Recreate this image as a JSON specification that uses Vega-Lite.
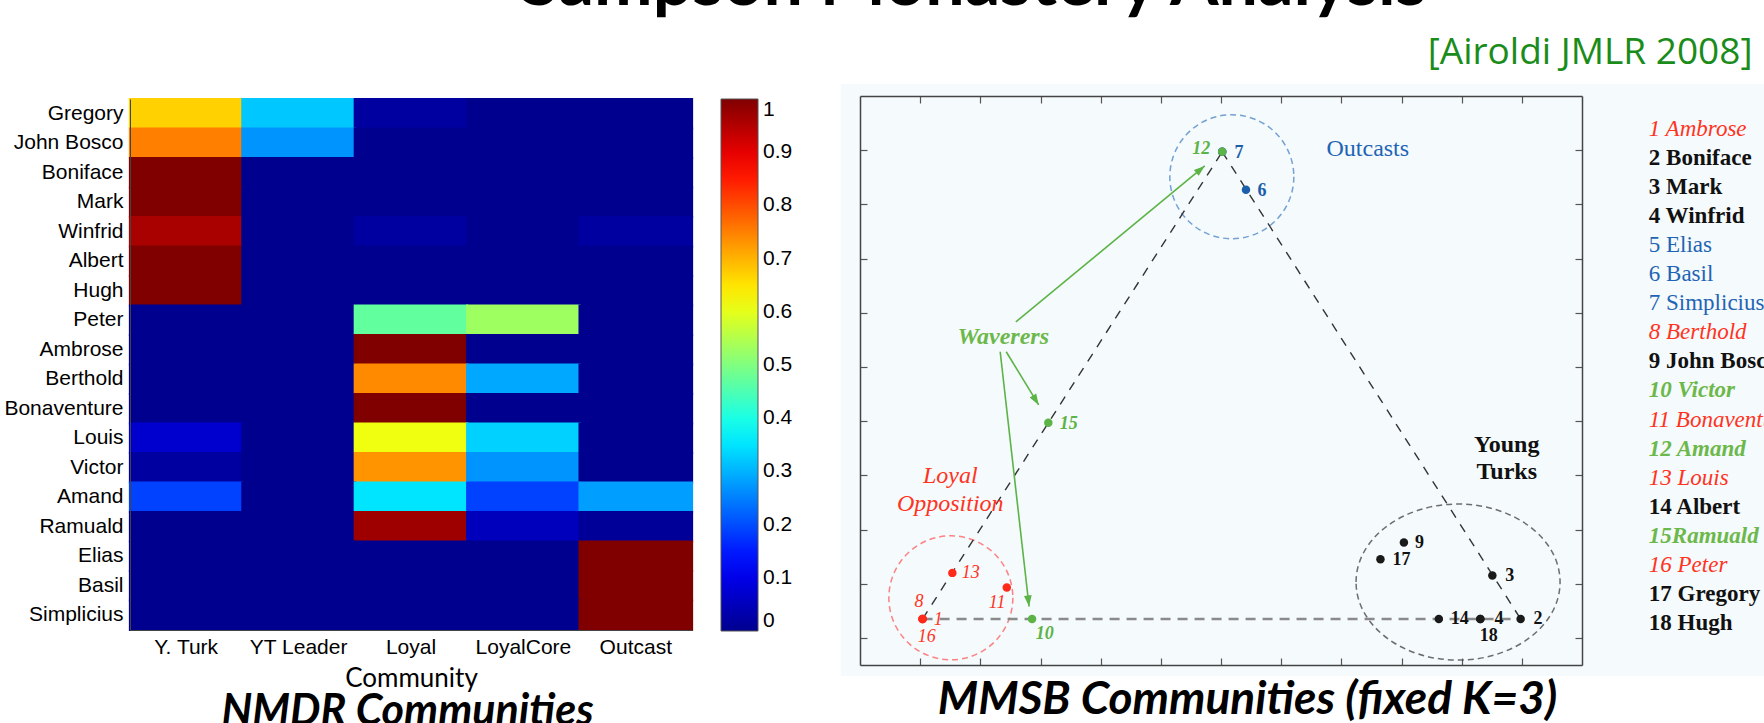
{
  "$schema": "https://vega.github.io/schema/vega-lite/v6.json",
  "width": 1764,
  "height": 723,
  "autosize": {"type": "none"},
  "padding": 0,
  "background": "white",
  "config": {"view": {"stroke": null}, "axis": {"grid": false}},
  "datasets": {
    "heat": [
      {"name": "Gregory", "community": "Y. Turk", "value": 0.67}, {"name": "Gregory", "community": "YT Leader", "value": 0.32}, {"name": "Gregory", "community": "Loyal", "value": 0.02}, {"name": "Gregory", "community": "LoyalCore", "value": 0}, {"name": "Gregory", "community": "Outcast", "value": 0},
      {"name": "John Bosco", "community": "Y. Turk", "value": 0.75}, {"name": "John Bosco", "community": "YT Leader", "value": 0.27}, {"name": "John Bosco", "community": "Loyal", "value": 0}, {"name": "John Bosco", "community": "LoyalCore", "value": 0}, {"name": "John Bosco", "community": "Outcast", "value": 0},
      {"name": "Boniface", "community": "Y. Turk", "value": 1}, {"name": "Boniface", "community": "YT Leader", "value": 0}, {"name": "Boniface", "community": "Loyal", "value": 0}, {"name": "Boniface", "community": "LoyalCore", "value": 0}, {"name": "Boniface", "community": "Outcast", "value": 0},
      {"name": "Mark", "community": "Y. Turk", "value": 1}, {"name": "Mark", "community": "YT Leader", "value": 0}, {"name": "Mark", "community": "Loyal", "value": 0}, {"name": "Mark", "community": "LoyalCore", "value": 0}, {"name": "Mark", "community": "Outcast", "value": 0},
      {"name": "Winfrid", "community": "Y. Turk", "value": 0.96}, {"name": "Winfrid", "community": "YT Leader", "value": 0}, {"name": "Winfrid", "community": "Loyal", "value": 0.02}, {"name": "Winfrid", "community": "LoyalCore", "value": 0}, {"name": "Winfrid", "community": "Outcast", "value": 0.02},
      {"name": "Albert", "community": "Y. Turk", "value": 1}, {"name": "Albert", "community": "YT Leader", "value": 0}, {"name": "Albert", "community": "Loyal", "value": 0}, {"name": "Albert", "community": "LoyalCore", "value": 0}, {"name": "Albert", "community": "Outcast", "value": 0},
      {"name": "Hugh", "community": "Y. Turk", "value": 1}, {"name": "Hugh", "community": "YT Leader", "value": 0}, {"name": "Hugh", "community": "Loyal", "value": 0}, {"name": "Hugh", "community": "LoyalCore", "value": 0}, {"name": "Hugh", "community": "Outcast", "value": 0},
      {"name": "Peter", "community": "Y. Turk", "value": 0}, {"name": "Peter", "community": "YT Leader", "value": 0}, {"name": "Peter", "community": "Loyal", "value": 0.47}, {"name": "Peter", "community": "LoyalCore", "value": 0.53}, {"name": "Peter", "community": "Outcast", "value": 0},
      {"name": "Ambrose", "community": "Y. Turk", "value": 0}, {"name": "Ambrose", "community": "YT Leader", "value": 0}, {"name": "Ambrose", "community": "Loyal", "value": 1}, {"name": "Ambrose", "community": "LoyalCore", "value": 0}, {"name": "Ambrose", "community": "Outcast", "value": 0},
      {"name": "Berthold", "community": "Y. Turk", "value": 0}, {"name": "Berthold", "community": "YT Leader", "value": 0}, {"name": "Berthold", "community": "Loyal", "value": 0.74}, {"name": "Berthold", "community": "LoyalCore", "value": 0.29}, {"name": "Berthold", "community": "Outcast", "value": 0},
      {"name": "Bonaventure", "community": "Y. Turk", "value": 0}, {"name": "Bonaventure", "community": "YT Leader", "value": 0}, {"name": "Bonaventure", "community": "Loyal", "value": 1}, {"name": "Bonaventure", "community": "LoyalCore", "value": 0}, {"name": "Bonaventure", "community": "Outcast", "value": 0},
      {"name": "Louis", "community": "Y. Turk", "value": 0.07}, {"name": "Louis", "community": "YT Leader", "value": 0}, {"name": "Louis", "community": "Loyal", "value": 0.61}, {"name": "Louis", "community": "LoyalCore", "value": 0.33}, {"name": "Louis", "community": "Outcast", "value": 0},
      {"name": "Victor", "community": "Y. Turk", "value": 0.02}, {"name": "Victor", "community": "YT Leader", "value": 0}, {"name": "Victor", "community": "Loyal", "value": 0.73}, {"name": "Victor", "community": "LoyalCore", "value": 0.27}, {"name": "Victor", "community": "Outcast", "value": 0},
      {"name": "Amand", "community": "Y. Turk", "value": 0.19}, {"name": "Amand", "community": "YT Leader", "value": 0}, {"name": "Amand", "community": "Loyal", "value": 0.35}, {"name": "Amand", "community": "LoyalCore", "value": 0.19}, {"name": "Amand", "community": "Outcast", "value": 0.28},
      {"name": "Ramuald", "community": "Y. Turk", "value": 0}, {"name": "Ramuald", "community": "YT Leader", "value": 0}, {"name": "Ramuald", "community": "Loyal", "value": 0.97}, {"name": "Ramuald", "community": "LoyalCore", "value": 0.05}, {"name": "Ramuald", "community": "Outcast", "value": 0.01},
      {"name": "Elias", "community": "Y. Turk", "value": 0}, {"name": "Elias", "community": "YT Leader", "value": 0}, {"name": "Elias", "community": "Loyal", "value": 0}, {"name": "Elias", "community": "LoyalCore", "value": 0}, {"name": "Elias", "community": "Outcast", "value": 1},
      {"name": "Basil", "community": "Y. Turk", "value": 0}, {"name": "Basil", "community": "YT Leader", "value": 0}, {"name": "Basil", "community": "Loyal", "value": 0}, {"name": "Basil", "community": "LoyalCore", "value": 0}, {"name": "Basil", "community": "Outcast", "value": 1},
      {"name": "Simplicius", "community": "Y. Turk", "value": 0}, {"name": "Simplicius", "community": "YT Leader", "value": 0}, {"name": "Simplicius", "community": "Loyal", "value": 0}, {"name": "Simplicius", "community": "LoyalCore", "value": 0}, {"name": "Simplicius", "community": "Outcast", "value": 1}
    ],
    "panel": [{"x": -0.32, "x2": 15.2, "y": -0.2, "y2": 10.72}],
    "circles": [
      {"name": "outcast", "x": 6.18, "y": 9.01},
      {"name": "loyal", "x": 1.51, "y": 1.24},
      {"name": "turk", "x": 9.94, "y": 1.53}
    ],
    "edges": [
      {"kind": "side", "x": 1.04, "y": 0.85, "x2": 6.02, "y2": 9.47},
      {"kind": "side", "x": 6.02, "y": 9.47, "x2": 10.98, "y2": 0.85},
      {"kind": "base", "x": 1.04, "y": 0.85, "x2": 10.98, "y2": 0.85}
    ],
    "arrows": [
      {"id": "a1", "x": 2.59, "y": 6.33, "x2": 5.73, "y2": 9.21},
      {"id": "a2", "x": 2.43, "y": 5.78, "x2": 2.97, "y2": 4.80},
      {"id": "a3", "x": 2.33, "y": 5.78, "x2": 2.81, "y2": 1.08}
    ],
    "monks": [
      {"id": 2, "name": "Boniface", "group": "turk", "x": 10.98, "y": 0.85},
      {"id": 3, "name": "Mark", "group": "turk", "x": 10.51, "y": 1.65},
      {"id": 4, "name": "Winfrid", "group": "turk", "x": 10.31, "y": 0.85},
      {"id": 9, "name": "John Bosco", "group": "turk", "x": 9.04, "y": 2.26},
      {"id": 14, "name": "Albert", "group": "turk", "x": 9.62, "y": 0.85},
      {"id": 17, "name": "Gregory", "group": "turk", "x": 8.65, "y": 1.95},
      {"id": 18, "name": "Hugh", "group": "turk", "x": 10.31, "y": 0.85},
      {"id": 1, "name": "Ambrose", "group": "loyal", "x": 1.04, "y": 0.85},
      {"id": 8, "name": "Berthold", "group": "loyal", "x": 1.04, "y": 0.85},
      {"id": 11, "name": "Bonaventure", "group": "loyal", "x": 2.44, "y": 1.43},
      {"id": 13, "name": "Louis", "group": "loyal", "x": 1.535, "y": 1.70},
      {"id": 16, "name": "Peter", "group": "loyal", "x": 1.04, "y": 0.85},
      {"id": 5, "name": "Elias", "group": "outcast", "x": 6.02, "y": 9.47},
      {"id": 6, "name": "Basil", "group": "outcast", "x": 6.415, "y": 8.77},
      {"id": 7, "name": "Simplicius", "group": "outcast", "x": 6.02, "y": 9.47},
      {"id": 10, "name": "Victor", "group": "waverer", "x": 2.86, "y": 0.85},
      {"id": 12, "name": "Amand", "group": "waverer", "x": 6.02, "y": 9.47},
      {"id": 15, "name": "Ramuald", "group": "waverer", "x": 3.13, "y": 4.47}
    ],
    "texts": [
      {"text": "13", "x": 1.84, "y": 1.70, "group": "loyal", "kind": "number"},
      {"text": "8", "x": 0.98, "y": 1.16, "group": "loyal", "kind": "number"},
      {"text": "1", "x": 1.30, "y": 0.83, "group": "loyal", "kind": "number"},
      {"text": "16", "x": 1.11, "y": 0.52, "group": "loyal", "kind": "number"},
      {"text": "11", "x": 2.28, "y": 1.14, "group": "loyal", "kind": "number"},
      {"text": "10", "x": 3.07, "y": 0.57, "group": "waverer", "kind": "number"},
      {"text": "15", "x": 3.47, "y": 4.45, "group": "waverer", "kind": "number"},
      {"text": "12", "x": 5.67, "y": 9.52, "group": "waverer", "kind": "number"},
      {"text": "7", "x": 6.30, "y": 9.45, "group": "outcast", "kind": "number"},
      {"text": "6", "x": 6.68, "y": 8.75, "group": "outcast", "kind": "number"},
      {"text": "9", "x": 9.30, "y": 2.26, "group": "turk", "kind": "number"},
      {"text": "17", "x": 9.00, "y": 1.94, "group": "turk", "kind": "number"},
      {"text": "3", "x": 10.80, "y": 1.65, "group": "turk", "kind": "number"},
      {"text": "14", "x": 9.97, "y": 0.85, "group": "turk", "kind": "number"},
      {"text": "4", "x": 10.62, "y": 0.85, "group": "turk", "kind": "number"},
      {"text": "18", "x": 10.45, "y": 0.54, "group": "turk", "kind": "number"},
      {"text": "2", "x": 11.27, "y": 0.85, "group": "turk", "kind": "number"},
      {"text": "Outcasts", "x": 8.44, "y": 9.52, "group": "outcast", "kind": "note"},
      {"text": "Waverers", "x": 2.38, "y": 6.06, "group": "waverer", "kind": "note"},
      {"text": "Young", "x": 10.75, "y": 4.06, "group": "turk", "kind": "note"},
      {"text": "Turks", "x": 10.75, "y": 3.57, "group": "turk", "kind": "note"},
      {"text": "Loyal", "x": 1.50, "y": 3.49, "group": "loyal", "kind": "note"},
      {"text": "Opposition", "x": 1.50, "y": 2.97, "group": "loyal", "kind": "note"},
      {"text": "1 Ambrose", "x": 13.11, "y": 9.766, "group": "loyal", "kind": "list"},
      {"text": "2 Boniface", "x": 13.11, "y": 9.229, "group": "turk", "kind": "list"},
      {"text": "3 Mark", "x": 13.11, "y": 8.693, "group": "turk", "kind": "list"},
      {"text": "4 Winfrid", "x": 13.11, "y": 8.157, "group": "turk", "kind": "list"},
      {"text": "5 Elias", "x": 13.11, "y": 7.620, "group": "outcast", "kind": "list"},
      {"text": "6 Basil", "x": 13.11, "y": 7.083, "group": "outcast", "kind": "list"},
      {"text": "7 Simplicius", "x": 13.11, "y": 6.548, "group": "outcast", "kind": "list"},
      {"text": "8 Berthold", "x": 13.11, "y": 6.010, "group": "loyal", "kind": "list"},
      {"text": "9 John Bosco", "x": 13.11, "y": 5.473, "group": "turk", "kind": "list"},
      {"text": "10 Victor", "x": 13.11, "y": 4.938, "group": "waverer", "kind": "list"},
      {"text": "11 Bonaventure", "x": 13.11, "y": 4.401, "group": "loyal", "kind": "list"},
      {"text": "12 Amand", "x": 13.11, "y": 3.864, "group": "waverer", "kind": "list"},
      {"text": "13 Louis", "x": 13.11, "y": 3.329, "group": "loyal", "kind": "list"},
      {"text": "14 Albert", "x": 13.11, "y": 2.792, "group": "turk", "kind": "list"},
      {"text": "15Ramuald", "x": 13.11, "y": 2.255, "group": "waverer", "kind": "list"},
      {"text": "16 Peter", "x": 13.11, "y": 1.718, "group": "loyal", "kind": "list"},
      {"text": "17 Gregory", "x": 13.11, "y": 1.183, "group": "turk", "kind": "list"},
      {"text": "18 Hugh", "x": 13.11, "y": 0.646, "group": "turk", "kind": "list"}
    ]
  },
  "resolve": {"scale": {"x": "independent", "y": "independent", "color": "independent"}, "axis": {"x": "independent", "y": "independent"}, "legend": {"color": "independent"}},
  "layer": [
    {
      "data": {"name": "heat"},
      "mark": {"type": "rect", "width": {"band": 1.02}, "height": {"band": 1.06}},
      "encoding": {
        "x": {"field": "community", "type": "nominal",
          "scale": {"type": "band", "domain": ["Y. Turk", "YT Leader", "Loyal", "LoyalCore", "Outcast"], "range": [130, 692], "paddingInner": 0, "paddingOuter": 0},
          "axis": {"orient": "bottom", "offset": -93, "zindex": 1, "labelAngle": 0, "labelFont": "Liberation Sans", "labelFontSize": 21, "labelColor": "black", "labelPadding": 6, "ticks": false, "domain": true, "domainColor": "#444", "title": "Community", "titleFont": "Lato", "titleFontSize": 26, "titleFontWeight": "normal", "titleColor": "black", "titlePadding": 8}},
        "y": {"field": "name", "type": "nominal",
          "scale": {"type": "band", "domain": ["Gregory", "John Bosco", "Boniface", "Mark", "Winfrid", "Albert", "Hugh", "Peter", "Ambrose", "Berthold", "Bonaventure", "Louis", "Victor", "Amand", "Ramuald", "Elias", "Basil", "Simplicius"], "range": [99, 630], "paddingInner": 0, "paddingOuter": 0},
          "axis": {"orient": "left", "offset": -130, "zindex": 1, "labelFont": "Liberation Sans", "labelFontSize": 21, "labelColor": "black", "labelPadding": 7, "ticks": false, "domain": true, "domainColor": "#444", "title": "NMDR Communities", "titleAngle": 0, "titleX": 277, "titleY": 724, "titleAlign": "center", "titleBaseline": "alphabetic", "titleFont": "Lato", "titleFontSize": 43, "titleFontWeight": "bold", "titleFontStyle": "italic", "titleColor": "black"}},
        "color": {"field": "value", "type": "quantitative",
          "scale": {"domain": [0, 0.125, 0.375, 0.625, 0.875, 1], "range": ["#00008f", "#0000ff", "#00ffff", "#ffff00", "#ff0000", "#800000"], "interpolate": "rgb"},
          "legend": {"orient": "none", "legendX": 721, "legendY": 99, "direction": "vertical", "type": "gradient", "gradientLength": 532, "gradientThickness": 37, "title": null, "values": [0, 0.1, 0.2, 0.3, 0.4, 0.5, 0.6, 0.7, 0.8, 0.9, 1], "format": ".1~f", "labelFont": "Liberation Sans", "labelFontSize": 21, "labelColor": "black", "labelOffset": 5, "labelOverlap": false, "gradientStrokeColor": "#555", "gradientStrokeWidth": 1}}
      }
    },
    {
      "resolve": {"axis": {"x": "independent", "y": "independent"}},
      "layer": [
        {
          "data": {"name": "panel"},
          "mark": {"type": "rect", "color": "#f5fafc"},
          "encoding": {
            "x": {"field": "x", "type": "quantitative", "scale": {"domain": [0, 12], "range": [860, 1582], "nice": false, "zero": false},
              "axis": {"orient": "bottom", "offset": -58, "zindex": 1, "values": [1, 2, 3, 4, 5, 6, 7, 8, 9, 10, 11], "labels": false, "tickSize": -7, "tickColor": "#555", "tickWidth": 1.2, "domainColor": "#444", "domainWidth": 1.5, "title": "MMSB Communities (fixed K=3)", "titleX": 1247, "titleY": 48, "titleAlign": "center", "titleBaseline": "alphabetic", "titleFont": "Lato", "titleFontSize": 46, "titleFontWeight": "bold", "titleFontStyle": "italic", "titleColor": "black"}},
            "x2": {"field": "x2"},
            "y": {"field": "y", "type": "quantitative", "scale": {"domain": [0, 10.5], "range": [665, 96], "nice": false, "zero": false},
              "axis": {"orient": "left", "offset": -860, "zindex": 1, "values": [0.5, 1.5, 2.5, 3.5, 4.5, 5.5, 6.5, 7.5, 8.5, 9.5], "labels": false, "tickSize": -7, "tickColor": "#555", "tickWidth": 1.2, "domainColor": "#444", "domainWidth": 1.5, "title": "Sampson Monastery Analysis", "titleAngle": 0, "titleX": 113, "titleY": 4, "titleAlign": "center", "titleBaseline": "alphabetic", "titleFont": "Lato", "titleFontSize": 70, "titleFontWeight": "bold", "titleColor": "black"}},
            "y2": {"field": "y2"}
          }
        },
        {
          "data": {"name": "circles"},
          "transform": [{"filter": "datum.name === 'outcast'"}],
          "mark": {"type": "point", "shape": "circle", "size": 15376, "filled": false, "stroke": "#3d7cc4", "strokeWidth": 1.5, "strokeDash": [6, 4]},
          "encoding": {"x": {"field": "x", "type": "quantitative", "axis": null}, "y": {"field": "y", "type": "quantitative", "axis": null}}
        },
        {
          "data": {"name": "circles"},
          "transform": [{"filter": "datum.name === 'loyal'"}],
          "mark": {"type": "point", "shape": "circle", "size": 15376, "filled": false, "stroke": "#ff5050", "strokeWidth": 1.5, "strokeDash": [6, 4]},
          "encoding": {"x": {"field": "x", "type": "quantitative", "axis": null}, "y": {"field": "y", "type": "quantitative", "axis": null}}
        },
        {
          "data": {"name": "circles"},
          "transform": [{"filter": "datum.name === 'turk'"}],
          "mark": {"type": "point", "shape": "M-1,0A1,0.765,0,1,1,1,0A1,0.765,0,1,1,-1,0Z", "size": 41616, "filled": false, "stroke": "#333333", "strokeWidth": 1.5, "strokeDash": [6, 4]},
          "encoding": {"x": {"field": "x", "type": "quantitative", "axis": null}, "y": {"field": "y", "type": "quantitative", "axis": null}}
        },
        {
          "data": {"name": "edges"},
          "transform": [{"filter": "datum.kind === 'base'"}],
          "mark": {"type": "rule", "color": "#8a8a8a", "strokeWidth": 2.5, "strokeDash": [10, 7]},
          "encoding": {"x": {"field": "x", "type": "quantitative", "axis": null}, "y": {"field": "y", "type": "quantitative", "axis": null}, "x2": {"field": "x2"}, "y2": {"field": "y2"}}
        },
        {
          "data": {"name": "edges"},
          "transform": [{"filter": "datum.kind === 'side'"}],
          "mark": {"type": "rule", "color": "#333333", "strokeWidth": 1.4, "strokeDash": [9, 8]},
          "encoding": {"x": {"field": "x", "type": "quantitative", "axis": null}, "y": {"field": "y", "type": "quantitative", "axis": null}, "x2": {"field": "x2"}, "y2": {"field": "y2"}}
        },
        {
          "data": {"name": "arrows"},
          "mark": {"type": "rule", "color": "#5cb346", "strokeWidth": 1.6},
          "encoding": {"x": {"field": "x", "type": "quantitative", "axis": null}, "y": {"field": "y", "type": "quantitative", "axis": null}, "x2": {"field": "x2"}, "y2": {"field": "y2"}}
        },
        {
          "data": {"name": "arrows"},
          "transform": [{"filter": "datum.id === 'a1'"}],
          "mark": {"type": "point", "shape": "M0,0L-0.7,2L0.7,2Z", "size": 121, "filled": true, "color": "#5cb346", "opacity": 1, "angle": 50.5},
          "encoding": {"x": {"field": "x2", "type": "quantitative", "axis": null}, "y": {"field": "y2", "type": "quantitative", "axis": null}}
        },
        {
          "data": {"name": "arrows"},
          "transform": [{"filter": "datum.id === 'a2'"}],
          "mark": {"type": "point", "shape": "M0,0L-0.7,2L0.7,2Z", "size": 121, "filled": true, "color": "#5cb346", "opacity": 1, "angle": 148.5},
          "encoding": {"x": {"field": "x2", "type": "quantitative", "axis": null}, "y": {"field": "y2", "type": "quantitative", "axis": null}}
        },
        {
          "data": {"name": "arrows"},
          "transform": [{"filter": "datum.id === 'a3'"}],
          "mark": {"type": "point", "shape": "M0,0L-0.7,2L0.7,2Z", "size": 121, "filled": true, "color": "#5cb346", "opacity": 1, "angle": 173.5},
          "encoding": {"x": {"field": "x2", "type": "quantitative", "axis": null}, "y": {"field": "y2", "type": "quantitative", "axis": null}}
        },
        {
          "data": {"name": "monks"},
          "mark": {"type": "point", "shape": "circle", "size": 72, "filled": true, "opacity": 1},
          "encoding": {
            "x": {"field": "x", "type": "quantitative",
              "axis": {"orient": "top", "offset": -96, "zindex": 1, "values": [1, 2, 3, 4, 5, 6, 7, 8, 9, 10, 11], "labels": false, "tickSize": -7, "tickColor": "#555", "tickWidth": 1.2, "domainColor": "#444", "domainWidth": 1.5, "title": "[Airoldi JMLR 2008]", "titleX": 1752, "titleY": -33, "titleAlign": "right", "titleAngle": 0, "titleBaseline": "alphabetic", "titleFont": "Open Sans", "titleFontSize": 37, "titleFontWeight": "normal", "titleColor": "#1a8c1a"}},
            "y": {"field": "y", "type": "quantitative",
              "axis": {"orient": "right", "offset": -182, "zindex": 1, "values": [0.5, 1.5, 2.5, 3.5, 4.5, 5.5, 6.5, 7.5, 8.5, 9.5], "labels": false, "tickSize": -7, "tickColor": "#555", "tickWidth": 1.2, "domainColor": "#444", "domainWidth": 1.5, "title": null}},
            "color": {"field": "group", "type": "nominal", "scale": {"domain": ["loyal", "waverer", "turk", "outcast"], "range": ["#ff2a1a", "#5cb346", "#1a1a1a", "#1b5faa"]}, "legend": null}
          }
        },
        {
          "data": {"name": "texts"},
          "transform": [{"filter": "datum.group === 'loyal' && datum.kind === 'number'"}],
          "mark": {"type": "text", "font": "Liberation Serif", "fontSize": 18, "fontStyle": "italic", "color": "#ff3322", "align": "center", "baseline": "middle"},
          "encoding": {"x": {"field": "x", "type": "quantitative", "axis": null}, "y": {"field": "y", "type": "quantitative", "axis": null}, "text": {"field": "text"}}
        },
        {
          "data": {"name": "texts"},
          "transform": [{"filter": "datum.group === 'waverer' && datum.kind === 'number'"}],
          "mark": {"type": "text", "font": "Liberation Serif", "fontSize": 18, "fontStyle": "italic", "fontWeight": "bold", "color": "#5cb346", "align": "center", "baseline": "middle"},
          "encoding": {"x": {"field": "x", "type": "quantitative", "axis": null}, "y": {"field": "y", "type": "quantitative", "axis": null}, "text": {"field": "text"}}
        },
        {
          "data": {"name": "texts"},
          "transform": [{"filter": "datum.group === 'turk' && datum.kind === 'number'"}],
          "mark": {"type": "text", "font": "Liberation Serif", "fontSize": 18, "fontWeight": "bold", "color": "#111111", "align": "center", "baseline": "middle"},
          "encoding": {"x": {"field": "x", "type": "quantitative", "axis": null}, "y": {"field": "y", "type": "quantitative", "axis": null}, "text": {"field": "text"}}
        },
        {
          "data": {"name": "texts"},
          "transform": [{"filter": "datum.group === 'outcast' && datum.kind === 'number'"}],
          "mark": {"type": "text", "font": "Liberation Serif", "fontSize": 18, "fontWeight": "bold", "color": "#1b5faa", "align": "center", "baseline": "middle"},
          "encoding": {"x": {"field": "x", "type": "quantitative", "axis": null}, "y": {"field": "y", "type": "quantitative", "axis": null}, "text": {"field": "text"}}
        },
        {
          "data": {"name": "texts"},
          "transform": [{"filter": "datum.group === 'loyal' && datum.kind === 'note'"}],
          "mark": {"type": "text", "font": "Liberation Serif", "fontSize": 24, "fontStyle": "italic", "color": "#ff3322", "align": "center", "baseline": "middle"},
          "encoding": {"x": {"field": "x", "type": "quantitative", "axis": null}, "y": {"field": "y", "type": "quantitative", "axis": null}, "text": {"field": "text"}}
        },
        {
          "data": {"name": "texts"},
          "transform": [{"filter": "datum.group === 'waverer' && datum.kind === 'note'"}],
          "mark": {"type": "text", "font": "Liberation Serif", "fontSize": 24, "fontStyle": "italic", "fontWeight": "bold", "color": "#6cb84a", "align": "center", "baseline": "middle"},
          "encoding": {"x": {"field": "x", "type": "quantitative", "axis": null}, "y": {"field": "y", "type": "quantitative", "axis": null}, "text": {"field": "text"}}
        },
        {
          "data": {"name": "texts"},
          "transform": [{"filter": "datum.group === 'turk' && datum.kind === 'note'"}],
          "mark": {"type": "text", "font": "Liberation Serif", "fontSize": 24, "fontWeight": "bold", "color": "#111111", "align": "center", "baseline": "middle"},
          "encoding": {"x": {"field": "x", "type": "quantitative", "axis": null}, "y": {"field": "y", "type": "quantitative", "axis": null}, "text": {"field": "text"}}
        },
        {
          "data": {"name": "texts"},
          "transform": [{"filter": "datum.group === 'outcast' && datum.kind === 'note'"}],
          "mark": {"type": "text", "font": "Liberation Serif", "fontSize": 24, "color": "#1f64b4", "align": "center", "baseline": "middle"},
          "encoding": {"x": {"field": "x", "type": "quantitative", "axis": null}, "y": {"field": "y", "type": "quantitative", "axis": null}, "text": {"field": "text"}}
        },
        {
          "data": {"name": "texts"},
          "transform": [{"filter": "datum.group === 'loyal' && datum.kind === 'list'"}],
          "mark": {"type": "text", "font": "Liberation Serif", "fontSize": 23, "fontStyle": "italic", "color": "#ff3322", "align": "left", "baseline": "alphabetic"},
          "encoding": {"x": {"field": "x", "type": "quantitative", "axis": null}, "y": {"field": "y", "type": "quantitative", "axis": null}, "text": {"field": "text"}}
        },
        {
          "data": {"name": "texts"},
          "transform": [{"filter": "datum.group === 'waverer' && datum.kind === 'list'"}],
          "mark": {"type": "text", "font": "Liberation Serif", "fontSize": 23, "fontStyle": "italic", "fontWeight": "bold", "color": "#6cb84a", "align": "left", "baseline": "alphabetic"},
          "encoding": {"x": {"field": "x", "type": "quantitative", "axis": null}, "y": {"field": "y", "type": "quantitative", "axis": null}, "text": {"field": "text"}}
        },
        {
          "data": {"name": "texts"},
          "transform": [{"filter": "datum.group === 'turk' && datum.kind === 'list'"}],
          "mark": {"type": "text", "font": "Liberation Serif", "fontSize": 23, "fontWeight": "bold", "color": "#111111", "align": "left", "baseline": "alphabetic"},
          "encoding": {"x": {"field": "x", "type": "quantitative", "axis": null}, "y": {"field": "y", "type": "quantitative", "axis": null}, "text": {"field": "text"}}
        },
        {
          "data": {"name": "texts"},
          "transform": [{"filter": "datum.group === 'outcast' && datum.kind === 'list'"}],
          "mark": {"type": "text", "font": "Liberation Serif", "fontSize": 23, "color": "#1f64b4", "align": "left", "baseline": "alphabetic"},
          "encoding": {"x": {"field": "x", "type": "quantitative", "axis": null}, "y": {"field": "y", "type": "quantitative", "axis": null}, "text": {"field": "text"}}
        }
      ]
    }
  ]
}
